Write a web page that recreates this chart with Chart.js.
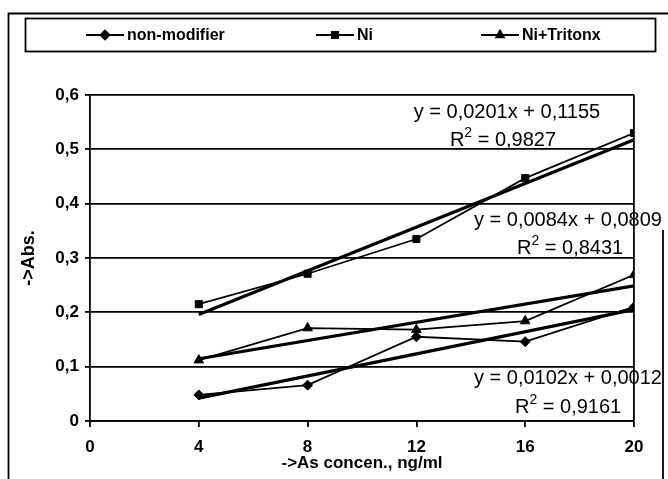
<!DOCTYPE html>
<html>
<head>
<meta charset="utf-8">
<script src="https://cdn.jsdelivr.net/npm/chart.js@4"></script>
<style>
  html, body { margin: 0; padding: 0; background: #fff; }
</style>
</head>
<body>
<canvas id="absChart" width="668" height="479"></canvas>
<script>
const concen = [4, 8, 12, 16, 20];
const nonModifier = [0.048, 0.066, 0.155, 0.146, 0.210];
const ni = [0.215, 0.271, 0.335, 0.447, 0.530];
const niTriton = [0.112, 0.171, 0.168, 0.184, 0.269];
const seriesNames = ['non-modifier', 'Ni', 'Ni+Tritonx'];
const seriesMarkers = ['rectRot', 'rect', 'triangle'];

// trendlines as printed on the chart: y = a*x + b
const trendSlope = [0.0102, 0.0201, 0.0084];
const trendIntercept = [0.0012, 0.1155, 0.0809];
const trendR2 = ['0,9161', '0,9827', '0,8431'];

const xTicks = [0, 4, 8, 12, 16, 20];
const yTicks = [0, 0.1, 0.2, 0.3, 0.4, 0.5, 0.6];

const FONT = "'Liberation Sans', Arial, sans-serif";
const comma = (v, d) => v.toFixed(d).replace('.', ',');

const ctx = document.getElementById('absChart').getContext('2d');

function points(ys) {
    return concen.map((x, i) => ({ x: x, y: ys[i] }));
}
function trend(i) {
    const x0 = concen[0], x1 = concen[concen.length - 1];
    return [
        { x: x0, y: trendSlope[i] * x0 + trendIntercept[i] },
        { x: x1, y: trendSlope[i] * x1 + trendIntercept[i] }
    ];
}

const allSeries = [nonModifier, ni, niTriton];
const datasets = [];
allSeries.forEach((ys, i) => {
    datasets.push({
        label: seriesNames[i],
        data: points(ys),
        borderColor: '#000',
        backgroundColor: '#000',
        borderWidth: 1.8,
        pointStyle: seriesMarkers[i],
        pointRadius: i === 2 ? 5.5 : 5,
        pointBackgroundColor: '#000',
        pointBorderColor: '#000',
        pointBorderWidth: 1
    });
});
allSeries.forEach((ys, i) => {
    datasets.push({
        label: 'trend ' + seriesNames[i],
        data: trend(i),
        borderColor: '#000',
        borderWidth: 3.2,
        pointRadius: 0
    });
});

// equation labels: [x, y, align]
const eqPos = [
    [[474, 378, 'left'], [515, 407, 'left']],
    [[507, 112, 'center'], [503, 140, 'center']],
    [[474, 220, 'left'], [517, 248, 'left']]
];

// "R" + raised "2" + " = value"
function drawR2(c, value, x, y, align) {
    const big = '20px ' + FONT, small = '14px ' + FONT;
    c.font = big;
    const wR = c.measureText('R').width;
    const wRest = c.measureText(' = ' + value).width;
    c.font = small;
    const w2 = c.measureText('2').width;
    const total = wR + w2 + wRest;
    let left = align === 'center' ? x - total / 2 : x;
    c.textAlign = 'left';
    c.font = big;
    c.fillText('R', left, y);
    c.font = small;
    c.fillText('2', left + wR, y - 7);
    c.font = big;
    c.fillText(' = ' + value, left + wR + w2, y);
}

const framePlugin = {
    id: 'frame',
    beforeDraw(chart) {
        const c = chart.ctx;
        c.save();
        c.fillStyle = '#fff';
        c.fillRect(0, 0, chart.width, chart.height);
        c.restore();
    },
    afterDraw(chart) {
        const c = chart.ctx;
        c.save();
        c.strokeStyle = '#000';
        c.lineWidth = 1.8;
        // outer frame
        c.beginPath();
        c.moveTo(8.5, 479);
        c.lineTo(8.5, 13.5);
        c.lineTo(668, 13.5);
        c.moveTo(663, 230);
        c.lineTo(663, 479);
        c.stroke();
        // legend box
        c.strokeRect(25.5, 18.5, 630, 33);
        const lx = [86, 316, 481];
        const ly = 35;
        c.font = 'bold 16px ' + FONT;
        c.textBaseline = 'middle';
        c.textAlign = 'left';
        seriesNames.forEach((name, i) => {
            c.lineWidth = 1.8;
            c.beginPath();
            c.moveTo(lx[i], ly);
            c.lineTo(lx[i] + 38, ly);
            c.stroke();
            c.fillStyle = '#000';
            Chart.helpers.drawPoint(c, { pointStyle: seriesMarkers[i], radius: 4.5, rotation: 0, borderWidth: 1 }, lx[i] + 19, ly);
            c.fillStyle = '#000';
            c.fillText(name, lx[i] + 41, ly + 1);
        });
        // trendline equations
        eqPos.forEach((p, i) => {
            const eq = 'y = ' + comma(trendSlope[i], 4) + 'x + ' + comma(trendIntercept[i], 4);
            c.font = '20px ' + FONT;
            c.textAlign = p[0][2];
            c.fillText(eq, p[0][0], p[0][1]);
            drawR2(c, trendR2[i], p[1][0], p[1][1], p[1][2]);
        });
        c.restore();
    }
};

const tickFont = { family: FONT, size: 17, weight: 'bold' };

new Chart(ctx, {
    type: 'line',
    data: { datasets: datasets },
    options: {
        responsive: false,
        animation: false,
        layout: { padding: { left: 8, right: 34, top: 95, bottom: 0 } },
        plugins: {
            legend: { display: false },
            tooltip: { enabled: false }
        },
        scales: {
            x: {
                type: 'linear',
                min: 0,
                max: 20,
                afterBuildTicks: s => { s.ticks = xTicks.map(v => ({ value: v })); },
                afterFit: s => { s.height = 58; },
                grid: {
                    color: c => (c.tick && c.tick.value === 20) ? '#000' : 'rgba(0,0,0,0)',
                    tickColor: '#000',
                    lineWidth: 1.8,
                    tickLength: 6
                },
                border: { color: '#000', width: 1.8 },
                ticks: { color: '#000', font: tickFont, padding: 10 },
                title: {
                    display: true,
                    text: '->As concen., ng/ml',
                    color: '#000',
                    font: { family: FONT, size: 17, weight: 'bold' },
                    padding: { top: 0, bottom: 5 }
                }
            },
            y: {
                min: 0,
                max: 0.6,
                afterBuildTicks: s => { s.ticks = yTicks.map(v => ({ value: v })); },
                afterFit: s => { s.width = 82; },
                grid: { color: '#000', lineWidth: 1.8, tickLength: 5, tickColor: '#000' },
                border: { color: '#000', width: 1.8 },
                ticks: {
                    color: '#000',
                    font: tickFont,
                    padding: 6,
                    callback: v => v === 0 ? '0' : comma(v, 1)
                },
                title: {
                    display: true,
                    text: '->Abs.',
                    color: '#000',
                    font: { family: FONT, size: 18, weight: 'bold' },
                    padding: { top: 10, bottom: 0 }
                }
            }
        }
    },
    plugins: [framePlugin]
});
</script>
</body>
</html>
